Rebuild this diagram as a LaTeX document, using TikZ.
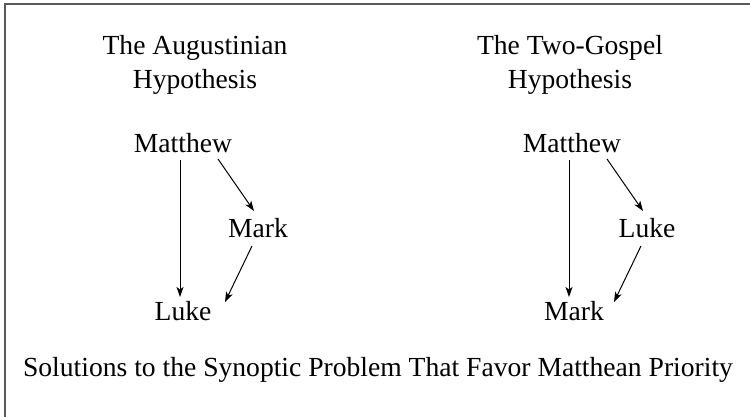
\documentclass[tikz,border=0pt]{standalone}
\usepackage{fontspec}
\setmainfont{Liberation Serif}
\usetikzlibrary{arrows.meta}
\begin{document}
\begin{tikzpicture}[x=1pt,y=-1pt,
  lbl/.style={anchor=base,inner sep=0pt,font=\fontsize{27.6}{32}\selectfont},
  hdr/.style={anchor=base,inner sep=0pt,font=\fontsize{27.6}{32}\selectfont},
  arr/.style={line width=1pt,-{Stealth[length=10pt,width=7pt,inset=2.5pt]}},
  frame/.style={line width=1.5pt,draw=black!65}]
\useasboundingbox (0,0) rectangle (750,416);
\draw[frame] (5,420) -- (5,4) -- (754,4);
% headers
\node[hdr] (h1a) at (195,54) {The Augustinian};
\node[hdr] (h1b) at (195,88) {Hypothesis};
\node[hdr] (h2a) at (570,54) {The Two-Gospel};
\node[hdr] (h2b) at (570,88) {Hypothesis};
% left diagram
\node[lbl] (mt1) at (183,152) {Matthew};
\node[lbl] (mk1) at (258,237) {Mark};
\node[lbl] (lk1) at (183,320) {Luke};
% right diagram
\node[lbl] (mt2) at (572,152) {Matthew};
\node[lbl] (lk2) at (647,237) {Luke};
\node[lbl] (mk2) at (574,320) {Mark};
% arrows left
\draw[arr] ([shift={(-3,8)}]mt1.base) -- ([shift={(-3,-23)}]lk1.base);
\draw[arr] ([shift={(35,7)}]mt1.base) -- ([shift={(-4,-26)}]mk1.base);
\draw[arr] ([shift={(-6,9)}]mk1.base) -- ([shift={(42,-18)}]lk1.base);
% arrows right
\draw[arr] ([shift={(-3,8)}]mt2.base) -- ([shift={(-5,-23)}]mk2.base);
\draw[arr] ([shift={(35,7)}]mt2.base) -- ([shift={(-4,-26)}]lk2.base);
\draw[arr] ([shift={(-6,9)}]lk2.base) -- ([shift={(40,-18)}]mk2.base);
% caption
\node[hdr] (cap) at (378,376) {Solutions to the Synoptic Problem That Favor Matthean Priority};
\end{tikzpicture}
\end{document}
